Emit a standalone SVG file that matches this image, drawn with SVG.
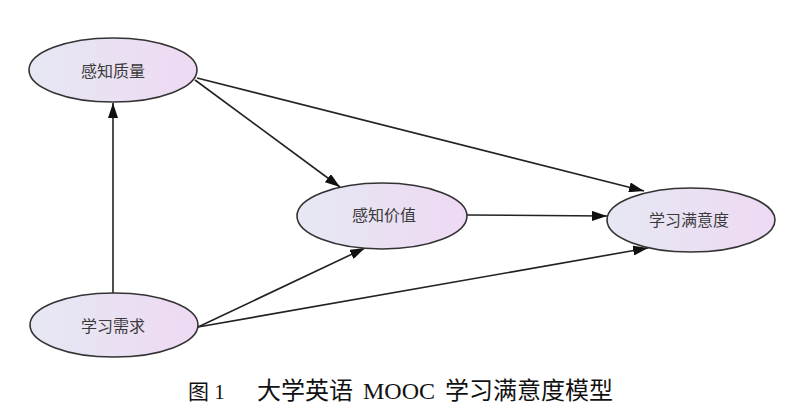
<svg xmlns="http://www.w3.org/2000/svg" width="800" height="416" viewBox="0 0 800 416">
  <style>
    .node ellipse { fill: url(#g); stroke: #333; stroke-width: 1.6; }
    .node text { font-family: "Noto Sans CJK SC", "Noto Sans", sans-serif; font-size: 16px; fill: #3a3a3a; text-anchor: middle; dominant-baseline: central; }
    .edge { stroke: #222; stroke-width: 1.6; fill: none; marker-end: url(#arr); }
    .cap { font-family: "Liberation Serif", "Noto Sans CJK SC", serif; font-size: 24px; fill: #111; }
  </style>
  <defs>
    <linearGradient id="g" x1="0" y1="0" x2="1" y2="0">
      <stop offset="0" stop-color="#e6e8f3"/>
      <stop offset="1" stop-color="#eed9f3"/>
    </linearGradient>
    <marker id="arr" markerUnits="userSpaceOnUse" markerWidth="15" markerHeight="10" refX="15" refY="5" orient="auto">
      <path d="M0,0 L15,5 L0,10 z" fill="#111"/>
    </marker>
  </defs>
  <rect width="800" height="416" fill="#fff"/>
  <g id="edges">
    <line class="edge" x1="113" y1="293" x2="113" y2="103"/>
    <line class="edge" x1="195" y1="80" x2="340" y2="187"/>
    <line class="edge" x1="197" y1="78" x2="644" y2="191"/>
    <line class="edge" x1="467" y1="215" x2="607" y2="216"/>
    <line class="edge" x1="198" y1="327" x2="365" y2="248"/>
    <line class="edge" x1="198" y1="327" x2="648" y2="248"/>
  </g>
  <g id="n-quality" class="node">
    <ellipse cx="113" cy="70" rx="84" ry="32"/>
    <text x="113" y="70">感知质量</text>
  </g>
  <g id="n-value" class="node">
    <ellipse cx="382" cy="216" rx="85" ry="33"/>
    <text x="384" y="214">感知价值</text>
  </g>
  <g id="n-satisfaction" class="node">
    <ellipse cx="691" cy="220" rx="84" ry="32"/>
    <text x="689" y="219">学习满意度</text>
  </g>
  <g id="n-demand" class="node">
    <ellipse cx="114" cy="325" rx="84" ry="32"/>
    <text x="113" y="325">学习需求</text>
  </g>
  <g id="caption">
    <text class="cap" x="188" y="399" style="font-size:21px">图 1</text>
    <text class="cap" x="257" y="399" style="word-spacing:4px">大学英语 MOOC 学习满意度模型</text>
  </g>
</svg>
